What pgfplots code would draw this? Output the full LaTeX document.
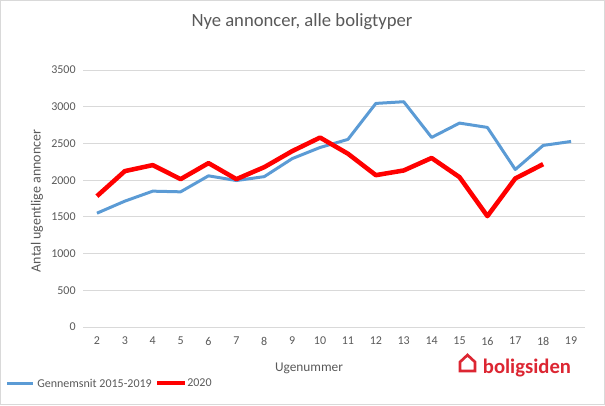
\documentclass[border=0pt]{standalone}
\usepackage{pgfplots}
\pgfplotsset{compat=1.18}
\usepackage{fontspec}
\setmainfont{Carlito}
\definecolor{txt}{RGB}{89,89,89}
\definecolor{gridc}{RGB}{217,217,217}
\definecolor{blu}{RGB}{91,155,213}
\definecolor{logored}{RGB}{220,38,50}
\begin{document}
\begin{tikzpicture}
\draw[draw=gridc,line width=0.75pt] (0.375pt,0.375pt) rectangle (453.375pt,303.375pt);
\begin{axis}[
  at={(62.25pt,58.5pt)}, anchor=south west, scale only axis,
  width=376.5pt, height=192.75pt,
  xmin=1.5, xmax=19.5, ymin=0, ymax=3500,
  xtick={2,...,19}, ytick={0,500,...,3500},
  axis line style={draw=none}, tick style={draw=none},
  xmajorgrids=false, ymajorgrids=true,
  y grid style={gridc,line width=0.75pt},
  ticklabel style={font=\fontsize{9}{10}\selectfont, text=txt},
  /pgf/number format/assume math mode=true,
  /pgf/number format/1000 sep={},
  yticklabel style={xshift=-2pt},
  xticklabel style={yshift=-4pt},
  clip=false,
]
\addplot[blu, line width=2.25pt, line join=round] coordinates {
(2,1550) (3,1714) (4,1850) (5,1841) (6,2059) (7,1995) (8,2048) (9,2293)
(10,2445) (11,2555) (12,3045) (13,3068) (14,2582) (15,2777) (16,2718)
(17,2145) (18,2473) (19,2527)};
\addplot[red, line width=3.4pt, line join=round] coordinates {
(2,1782) (3,2123) (4,2205) (5,2014) (6,2232) (7,2014) (8,2177) (9,2395)
(10,2580) (11,2360) (12,2068) (13,2132) (14,2302) (15,2041) (16,1510)
(17,2023) (18,2218)};
\end{axis}
\node[font=\fontsize{14}{16}\selectfont, text=txt] at (226.5pt,287.25pt) {Nye annoncer, alle boligtyper};
\node[font=\fontsize{10}{12}\selectfont, text=txt] at (231.75pt,27.75pt) {Ugenummer};
\node[rotate=90, font=\fontsize{10.5}{12}\selectfont, text=txt] at (27.75pt,153pt) {Antal ugentlige annoncer};
% legend
\draw[blu, line width=2.25pt] (5.25pt,16.5pt) -- (24.75pt,16.5pt);
\node[anchor=west, inner sep=0pt, font=\fontsize{9}{10}\selectfont, text=txt] at (27.75pt,16.5pt) {Gennemsnit 2015-2019};
\draw[red, line width=3.4pt] (117.75pt,16.5pt) -- (138.75pt,16.5pt);
\node[anchor=west, inner sep=0pt, font=\fontsize{9}{10}\selectfont, text=txt] at (140.25pt,16.5pt) {2020};
% logo
\draw[logored, line width=2pt, line join=miter] (345pt,25.5pt) -- (345pt,32.25pt) -- (350.6pt,37.5pt) -- (356.25pt,32.25pt) -- (356.25pt,25.5pt) -- cycle;
\node[anchor=base west, inner sep=0pt, font=\fontsize{15.5}{17}\selectfont\bfseries, text=logored] at (362pt,24pt) {boligsiden};
\end{tikzpicture}
\end{document}
